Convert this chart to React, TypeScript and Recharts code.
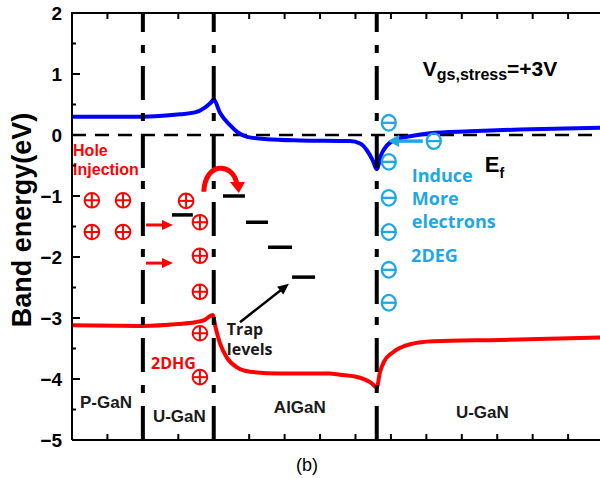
import React from 'react';
import { ComposedChart, Line, XAxis, YAxis, ReferenceLine, ReferenceDot } from 'recharts';

// ---- data (depth in arbitrary units, energy in eV) ----
const cbPos = [0, 1, 1.97, 3.05, 3.47, 3.75, 3.9, 4.0, 4.18, 4.46, 4.66, 4.94, 5.5, 6.43, 7.84, 8.13, 8.32, 8.49, 8.6, 8.72, 8.89, 9.11, 9.54, 10.1, 11.23, 12.64, 14.9];
const cbEnergy = [0.3, 0.3, 0.3, 0.34, 0.37, 0.45, 0.52, 0.58, 0.36, 0.16, 0.05, -0.03, -0.07, -0.09, -0.1, -0.14, -0.25, -0.42, -0.56, -0.33, -0.17, -0.08, -0.02, 0.03, 0.06, 0.09, 0.12];
const vbPos = [0, 1.97, 3.0, 3.47, 3.75, 3.97, 4.05, 4.18, 4.37, 4.66, 5.02, 5.87, 7.28, 7.56, 7.99, 8.27, 8.46, 8.6, 8.69, 8.8, 9.06, 9.54, 10.19, 12.08, 14.9];
const vbEnergy = [-3.12, -3.13, -3.1, -3.07, -3.03, -2.95, -3.15, -3.42, -3.65, -3.81, -3.88, -3.91, -3.91, -3.93, -3.96, -4.01, -4.07, -4.14, -3.89, -3.72, -3.56, -3.43, -3.38, -3.36, -3.32];

const interfaces = [2, 4, 8.6];
const fermiLevel = 0;
// trap levels: [start, end, energy]
const trapLevels = [
  [2.82, 3.41, -1.31],
  [4.26, 4.88, -1.0],
  [4.91, 5.53, -1.43],
  [5.53, 6.21, -1.84],
  [6.21, 6.86, -2.33],
];
const holes = [
  [0.56, -1.07], [1.44, -1.07], [0.56, -1.59], [1.44, -1.59],
  [3.22, -1.08], [3.61, -1.43], [3.61, -1.98], [3.61, -2.57], [3.61, -3.25], [3.61, -3.97],
];
const electrons = [
  [8.94, 0.2], [8.94, -0.44], [8.94, -1.03], [8.94, -1.59], [8.94, -2.21], [8.94, -2.75], [10.21, -0.1],
];
const xDomain = [0, 14.9];
const yDomain = [-5, 2];
const xTicks = [0, 1, 2, 3, 4, 5, 6, 7, 8, 9, 10, 11, 12, 13, 14];
const yTicks = [-5, -4.5, -4, -3.5, -3, -2.5, -2, -1.5, -1, -0.5, 0, 0.5, 1, 1.5, 2];

const cbData = cbPos.map((x, i) => ({ x, e: cbEnergy[i] }));
const vbData = vbPos.map((x, i) => ({ x, e: vbEnergy[i] }));

// layout
const W = 600, H = 478;
const MARGIN = { top: 13, right: 0, bottom: 0, left: 0 };
const X_AXIS_H = 38;
const Y_AXIS_W = 72;
const PLOT_W = W - MARGIN.left - MARGIN.right - Y_AXIS_W;

const RED = '#ff0000';
const BLUE = '#0000ff';
const CYAN = '#1fa7e4';
const ARIAL = "'Liberation Sans', Arial, sans-serif";
const OPEN = "'Open Sans', 'Noto Sans', sans-serif";

const LeftTick = (p: any) => {
  const v = p.payload.value;
  const ax = p.x + 10;
  const major = Number.isInteger(v);
  return (
    <g>
      <line x1={ax} x2={ax + (major ? 8 : 4)} y1={p.y} y2={p.y} stroke="#000" strokeWidth={2} />
      {major && (
        <text x={p.x} y={p.y} dy="0.36em" textAnchor="end" fontFamily={ARIAL} fontWeight="bold" fontSize={19} fill="#000">
          {v < 0 ? `\u2212${-v}` : `${v}`}
        </text>
      )}
    </g>
  );
};
const RightTick = (p: any) => {
  const major = Number.isInteger(p.payload.value);
  return <line x1={p.x} x2={p.x - (major ? 7 : 4)} y1={p.y} y2={p.y} stroke="#000" strokeWidth={2} />;
};
const BottomTick = (p: any) => <line x1={p.x} x2={p.x} y1={p.y} y2={p.y - 6} stroke="#000" strokeWidth={2} />;

const arrowShape = (color: string, w: number, head: number, hw: number) => (p: any) => {
  const { x1, y1, x2, y2 } = p;
  const dx = x2 - x1, dy = y2 - y1;
  const L = Math.sqrt(dx * dx + dy * dy) || 1;
  const ux = dx / L, uy = dy / L;
  const bx = x2 - ux * head, by = y2 - uy * head;
  const nx = -uy, ny = ux;
  return (
    <g>
      <line x1={x1} y1={y1} x2={bx + ux * 1} y2={by + uy * 1} stroke={color} strokeWidth={w} />
      <polygon points={`${x2},${y2} ${bx + nx * hw},${by + ny * hw} ${bx - nx * hw},${by - ny * hw}`} fill={color} />
    </g>
  );
};

const curvedArrow = (p: any) => {
  const { x1, y1, x2, y2 } = p;
  const d = `M ${x1} ${y1} C ${x1 + 1} ${y1 - 30}, ${x2 - 6} ${y1 - 30}, ${x2 - 2} ${y2 - 9}`;
  return (
    <g>
      <path d={d} stroke={RED} strokeWidth={5} fill="none" />
      <polygon points={`${x2},${y2} ${x2 - 9},${y2 - 11} ${x2 + 6},${y2 - 11}`} fill={RED} />
    </g>
  );
};

const holeShape = (p: any) => (
  <g>
    <circle cx={p.cx} cy={p.cy} r={7.3} fill="none" stroke={RED} strokeWidth={2} />
    <line x1={p.cx - 7.3} x2={p.cx + 7.3} y1={p.cy} y2={p.cy} stroke={RED} strokeWidth={2} />
    <line x1={p.cx} x2={p.cx} y1={p.cy - 7.3} y2={p.cy + 7.3} stroke={RED} strokeWidth={2} />
  </g>
);
const electronShape = (p: any) => (
  <g>
    <ellipse cx={p.cx} cy={p.cy} rx={7} ry={7.8} fill="none" stroke={CYAN} strokeWidth={2.3} />
    <line x1={p.cx - 7} x2={p.cx + 7} y1={p.cy} y2={p.cy} stroke={CYAN} strokeWidth={2.3} />
  </g>
);

type Note = { x: number; y: number; text: React.ReactNode; color: string; font: string; size: number; anchor?: string };
const notes: Note[] = [
  { x: 0.03, y: -0.34, text: 'Hole', color: RED, font: ARIAL, size: 16 },
  { x: 0.03, y: -0.66, text: 'Injection', color: RED, font: ARIAL, size: 16 },
  { x: 2.23, y: -3.84, text: '2DHG', color: RED, font: OPEN, size: 16 },
  { x: 4.37, y: -3.28, text: 'Trap', color: '#1a1a1a', font: OPEN, size: 16 },
  { x: 4.37, y: -3.61, text: 'levels', color: '#1a1a1a', font: OPEN, size: 16 },
  { x: 9.59, y: -0.77, text: 'Induce', color: CYAN, font: OPEN, size: 18 },
  { x: 9.59, y: -1.15, text: 'More', color: CYAN, font: OPEN, size: 18 },
  { x: 9.59, y: -1.52, text: 'electrons', color: CYAN, font: OPEN, size: 18 },
  { x: 9.57, y: -2.08, text: '2DEG', color: CYAN, font: OPEN, size: 18 },
  { x: 0.96, y: -4.48, text: 'P-GaN', color: '#1a1a1a', font: ARIAL, size: 17, anchor: 'middle' },
  { x: 3.03, y: -4.7, text: 'U-GaN', color: '#1a1a1a', font: ARIAL, size: 17, anchor: 'middle' },
  { x: 6.43, y: -4.56, text: 'AlGaN', color: '#1a1a1a', font: ARIAL, size: 17, anchor: 'middle' },
  { x: 11.58, y: -4.64, text: 'U-GaN', color: '#1a1a1a', font: ARIAL, size: 17, anchor: 'middle' },
  {
    x: 11.65, y: -0.61, color: '#000', font: ARIAL, size: 22,
    text: (<><tspan>E</tspan><tspan fontSize={14} dy={6}>f</tspan></>),
  },
  {
    x: 9.9, y: 0.97, color: '#000', font: ARIAL, size: 21,
    text: (<><tspan>V</tspan><tspan fontSize={16} dy={4}>gs,stress</tspan><tspan dy={-4}>=+3V</tspan></>),
  },
];

const noteShape = (n: Note) => (p: any) => (
  <text x={p.cx} y={p.cy} fill={n.color} fontFamily={n.font} fontWeight="bold" fontSize={n.size} textAnchor={n.anchor || 'start'}>
    {n.text}
  </text>
);

// top frame overlay (decoration of the plot box, built from the same layout constants)
const TopFrame = () => {
  const x0 = MARGIN.left + Y_AXIS_W;
  const y0 = MARGIN.top;
  const toPx = (v: number) => x0 + ((v - xDomain[0]) / (xDomain[1] - xDomain[0])) * PLOT_W;
  return (
    <svg width={W} height={30} style={{ position: 'absolute', left: 0, top: 0, pointerEvents: 'none' }}>
      <line x1={x0 - 1} x2={W} y1={y0} y2={y0} stroke="#000" strokeWidth={2} />
      {xTicks.map((t) => (
        <line key={t} x1={toPx(t)} x2={toPx(t)} y1={y0} y2={y0 + 6} stroke="#000" strokeWidth={2} />
      ))}
    </svg>
  );
};

export default function App() {
  return (
    <div style={{ position: 'absolute', left: 0, top: 0, width: W, height: H, background: '#fff' }}>
      <ComposedChart width={W} height={H} margin={MARGIN}>
        <XAxis type="number" dataKey="x" domain={xDomain} ticks={xTicks} interval={0} height={X_AXIS_H}
          axisLine={{ stroke: '#000', strokeWidth: 2 }} tickLine={false} tickSize={0} tickMargin={0} tick={BottomTick} allowDataOverflow />
        <YAxis type="number" domain={yDomain} ticks={yTicks} interval={0} width={Y_AXIS_W}
          axisLine={{ stroke: '#000', strokeWidth: 2 }} tickLine={false} tickSize={0} tickMargin={10} tick={LeftTick} allowDataOverflow />
        <YAxis yAxisId="r" orientation="right" type="number" domain={yDomain} ticks={yTicks} interval={0} width={0}
          axisLine={false} tickLine={false} tickSize={0} tickMargin={0} tick={RightTick} allowDataOverflow />

        <ReferenceLine y={fermiLevel} stroke="#000" strokeWidth={2.5} strokeDasharray="14 9" />

        <Line data={cbData} dataKey="e" type="monotone" stroke={BLUE} strokeWidth={4} dot={false} isAnimationActive={false} />
        <Line data={vbData} dataKey="e" type="monotone" stroke={RED} strokeWidth={4} dot={false} isAnimationActive={false} />

        {interfaces.map((x) => (
          <ReferenceLine key={`if${x}`} x={x} stroke="#000" strokeWidth={4} strokeDasharray="34 13 8 13" />
        ))}

        {trapLevels.map(([a, b, e], i) => (
          <ReferenceLine key={`tl${i}`} segment={[{ x: a, y: e }, { x: b, y: e }]} stroke="#000" strokeWidth={3.5} />
        ))}

        <ReferenceLine segment={[{ x: 2.09, y: -1.475 }, { x: 2.85, y: -1.475 }]} shape={arrowShape(RED, 3, 11, 5)} />
        <ReferenceLine segment={[{ x: 2.09, y: -2.1 }, { x: 2.85, y: -2.1 }]} shape={arrowShape(RED, 3, 11, 5)} />
        <ReferenceLine segment={[{ x: 9.9, y: -0.1 }, { x: 8.92, y: -0.1 }]} shape={arrowShape(CYAN, 3.5, 11, 6)} />
        <ReferenceLine segment={[{ x: 4.74, y: -3.07 }, { x: 6.12, y: -2.44 }]} shape={arrowShape('#000', 2.5, 11, 5)} />
        <ReferenceLine segment={[{ x: 3.72, y: -0.93 }, { x: 4.71, y: -0.95 }]} shape={curvedArrow} />

        {holes.map(([x, y], i) => (
          <ReferenceDot key={`h${i}`} x={x} y={y} r={0} shape={holeShape} />
        ))}
        {electrons.map(([x, y], i) => (
          <ReferenceDot key={`e${i}`} x={x} y={y} r={0} shape={electronShape} />
        ))}
        {notes.map((n, i) => (
          <ReferenceDot key={`n${i}`} x={n.x} y={n.y} r={0} shape={noteShape(n)} />
        ))}
      </ComposedChart>
      <TopFrame />
      <div style={{ position: 'absolute', left: 22, top: 220, transform: 'translate(-50%, -50%) rotate(-90deg)', whiteSpace: 'nowrap', fontFamily: ARIAL, fontWeight: 'bold', fontSize: 27, lineHeight: '30px', color: '#000' }}>
        Band energy(eV)
      </div>
      <div style={{ position: 'absolute', left: 307, top: 455, transform: 'translateX(-50%)', whiteSpace: 'nowrap', fontFamily: ARIAL, fontSize: 18, lineHeight: '20px', color: '#000' }}>
        (b)
      </div>
    </div>
  );
}
